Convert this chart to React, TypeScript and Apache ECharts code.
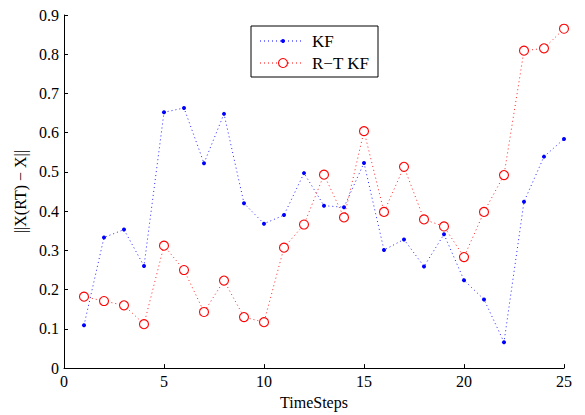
import React, { useEffect, useRef } from "react";
import * as echarts from "echarts";

const steps = [1,2,3,4,5,6,7,8,9,10,11,12,13,14,15,16,17,18,19,20,21,22,23,24,25];
const kf = [0.109,0.333,0.353,0.260,0.652,0.663,0.522,0.648,0.420,0.368,0.390,0.497,0.414,0.410,0.523,0.301,0.328,0.259,0.341,0.224,0.175,0.066,0.424,0.539,0.584];
const rtkf = [0.182,0.171,0.160,0.112,0.312,0.250,0.143,0.223,0.130,0.117,0.307,0.366,0.493,0.384,0.604,0.398,0.513,0.379,0.361,0.283,0.398,0.492,0.809,0.815,0.865];
const seriesNames = ["KF", "R\u2212T KF"];

const FONT = "Liberation Serif";
const BLUE = "#0000ff";
const RED = "#ff0000";

export default function App() {
  const ref = useRef<HTMLDivElement>(null);
  useEffect(() => {
    if (!ref.current) return;
    const chart = echarts.init(ref.current, undefined, { renderer: "svg" });
    const labelStyle = { color: "#000", fontFamily: FONT, fontSize: 16 };
    const axisLine = { show: true, lineStyle: { color: "#000", width: 1 } };
    const axisTick = { show: true, inside: true, length: 4, lineStyle: { color: "#000" } };

    // legend box (drawn as graphic)
    const lx = 251, ly = 26, lw = 127, lh = 51;
    const rowY = [41, 63];
    const dotted = { lineWidth: 1, lineDash: [1, 3] };
    const legendGraphic = [
      { type: "rect", shape: { x: lx, y: ly, width: lw, height: lh }, style: { fill: "#fff", stroke: "#000", lineWidth: 1 }, z: 100 },
      { type: "line", shape: { x1: 260, y1: rowY[0], x2: 304, y2: rowY[0] }, style: { ...dotted, stroke: BLUE }, z: 101 },
      { type: "circle", shape: { cx: 283, cy: rowY[0], r: 2 }, style: { fill: BLUE }, z: 102 },
      { type: "text", x: 312, y: rowY[0], style: { text: seriesNames[0], fill: "#000", fontFamily: FONT, fontSize: 17, verticalAlign: "middle" }, z: 102 },
      { type: "line", shape: { x1: 260, y1: rowY[1], x2: 304, y2: rowY[1] }, style: { ...dotted, stroke: RED }, z: 101 },
      { type: "circle", shape: { cx: 283, cy: rowY[1], r: 4.5 }, style: { fill: "#fff", stroke: RED, lineWidth: 1.1 }, z: 102 },
      { type: "text", x: 312, y: rowY[1], style: { text: seriesNames[1], fill: "#000", fontFamily: FONT, fontSize: 17, verticalAlign: "middle" }, z: 102 },
    ];

    chart.setOption({
      animation: false,
      backgroundColor: "#fff",
      textStyle: { fontFamily: FONT, color: "#000" },
      grid: { left: 64, right: 21, top: 15, bottom: 43, containLabel: false },
      graphic: legendGraphic,
      xAxis: {
        type: "value",
        min: 0,
        max: 25,
        interval: 5,
        name: "TimeSteps",
        nameLocation: "middle",
        nameGap: 23,
        nameTextStyle: { ...labelStyle },
        axisLine,
        axisTick,
        splitLine: { show: false },
        axisLabel: { ...labelStyle, margin: 5 },
      },
      yAxis: {
        type: "value",
        min: 0,
        max: 0.9,
        interval: 0.1,
        name: "||X(RT) \u2212 X||",
        nameLocation: "middle",
        nameGap: 36,
        nameTextStyle: { ...labelStyle },
        axisLine,
        axisTick,
        splitLine: { show: false },
        axisLabel: {
          ...labelStyle,
          margin: 5,
          formatter: (v: number) => (Math.round(v * 10) / 10).toString(),
        },
      },
      series: [
        {
          name: seriesNames[0],
          type: "line",
          data: steps.map((s, i) => [s, kf[i]]),
          symbol: "circle",
          symbolSize: 4,
          itemStyle: { color: BLUE },
          lineStyle: { color: BLUE, width: 1, type: [1, 3], opacity: 0.85 },
        },
        {
          name: seriesNames[1],
          type: "line",
          data: steps.map((s, i) => [s, rtkf[i]]),
          symbol: "circle",
          symbolSize: 9,
          showAllSymbol: true,
          itemStyle: { color: "#fff", borderColor: RED, borderWidth: 1.1 },
          lineStyle: { color: RED, width: 1, type: [1, 3], opacity: 0.85 },
        },
      ],
    });
    return () => chart.dispose();
  }, []);
  return (
    <div
      ref={ref}
      style={{ position: "fixed", left: 0, top: 0, width: 585, height: 415, background: "#fff" }}
    />
  );
}
